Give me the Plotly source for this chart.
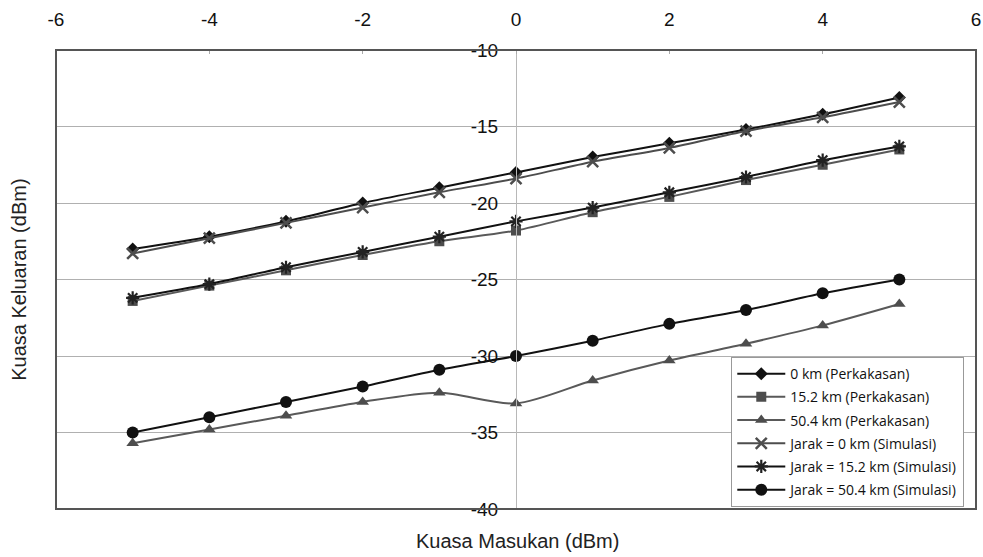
import plotly.graph_objects as go

x_dbm = [-5, -4, -3, -2, -1, 0, 1, 2, 3, 4, 5]

hw_0km = [-23.0, -22.2, -21.2, -20.0, -19.0, -18.0, -17.0, -16.1, -15.2, -14.2, -13.1]
hw_15km = [-26.4, -25.4, -24.4, -23.4, -22.5, -21.8, -20.6, -19.6, -18.5, -17.5, -16.5]
hw_50km = [-35.7, -34.8, -33.9, -33.0, -32.4, -33.1, -31.6, -30.3, -29.2, -28.0, -26.6]
sim_0km = [-23.3, -22.3, -21.3, -20.3, -19.3, -18.4, -17.3, -16.4, -15.3, -14.4, -13.4]
sim_15km = [-26.2, -25.3, -24.2, -23.2, -22.2, -21.2, -20.3, -19.3, -18.3, -17.2, -16.3]
sim_50km = [-35.0, -34.0, -33.0, -32.0, -30.9, -30.0, -29.0, -27.9, -27.0, -25.9, -25.0]

names = [
    "0 km (Perkakasan)",
    "15.2 km (Perkakasan)",
    "50.4 km (Perkakasan)",
    "Jarak = 0 km (Simulasi)",
    "Jarak = 15.2 km (Simulasi)",
    "Jarak = 50.4 km (Simulasi)",
]
x_ticks = [-6, -4, -2, 0, 2, 4, 6]
x_tick_labels = ["-6", "-4", "-2", "0", "2", "4", "6"]
y_ticks = [-40, -35, -30, -25, -20, -15, -10]
y_tick_labels = ["-40", "-35", "-30", "-25", "-20", "-15", "-10"]

styles = [
    (hw_0km, "#111111", dict(symbol="diamond", size=10, color="#111111")),
    (hw_15km, "#595959", dict(symbol="square", size=10, color="#4d4d4d")),
    (hw_50km, "#595959", dict(symbol="triangle-up", size=11, color="#4d4d4d")),
    (sim_0km, "#4d4d4d", dict(symbol="x-thin-open", size=11, color="#4d4d4d", line=dict(width=2.5, color="#4d4d4d"))),
    (sim_15km, "#111111", dict(symbol="asterisk-open", size=11, color="#222222", line=dict(width=2.2, color="#222222"))),
    (sim_50km, "#111111", dict(symbol="circle", size=12, color="#111111")),
]

fig = go.Figure()
for i, (name, (yv, lc, mk)) in enumerate(zip(names, styles)):
    fig.add_trace(go.Scatter(
        x=x_dbm, y=yv, name=name, mode="lines+markers", legendgroup="g%d" % i,
        line=dict(color=lc, width=2, shape="spline", smoothing=0.8),
        marker=mk,
    ))

fig.update_layout(
    width=983, height=557,
    margin=dict(l=56, r=7, t=50, b=48),
    paper_bgcolor="white", plot_bgcolor="white",
    font=dict(family="Liberation Sans, Arial, sans-serif", color="#111111", size=19),
    showlegend=True,
    legend=dict(
        x=0.734, y=0.331, xanchor="left", yanchor="top",
        bgcolor="white", bordercolor="#999999", borderwidth=1,
        font=dict(family="Open Sans, sans-serif", size=14, color="#111111"),
        tracegroupgap=2, itemwidth=48,
    ),
    xaxis=dict(
        range=[-6, 6], tickvals=x_ticks, ticktext=x_tick_labels, side="top",
        showgrid=False, zeroline=False, automargin=False,
        ticks="inside", ticklen=4, tickcolor="#aaaaaa",
        showline=False, ticklabelstandoff=19, ticklabeloverflow="allow",
    ),
    yaxis=dict(
        range=[-40, -10], tickvals=y_ticks, ticktext=y_tick_labels,
        anchor="free", position=0.5, automargin=False,
        showgrid=True, gridcolor="#b0b0b0", gridwidth=1,
        zeroline=False, showline=True, linecolor="#b8b8b8", linewidth=1,
        ticks="", ticklabelstandoff=14,
    ),
    shapes=[dict(type="rect", xref="paper", yref="paper", x0=0, y0=0, x1=1, y1=1,
                 line=dict(color="#555555", width=2), layer="above")],
    annotations=[
        dict(text="Kuasa Masukan (dBm)", xref="paper", yref="paper", x=0.502, y=-0.07,
             xanchor="center", yanchor="middle", showarrow=False, font=dict(size=20, color="#222222")),
        dict(text="Kuasa Keluaran (dBm)", xref="paper", yref="paper", x=-0.041, y=0.5,
             xanchor="center", yanchor="middle", textangle=-90, showarrow=False,
             font=dict(size=20, color="#222222")),
    ],
)

fig.write_html(
    "out.html",
    config={"displayModeBar": False},
    post_script="document.body.style.margin='0';document.body.style.overflow='hidden';",
)
